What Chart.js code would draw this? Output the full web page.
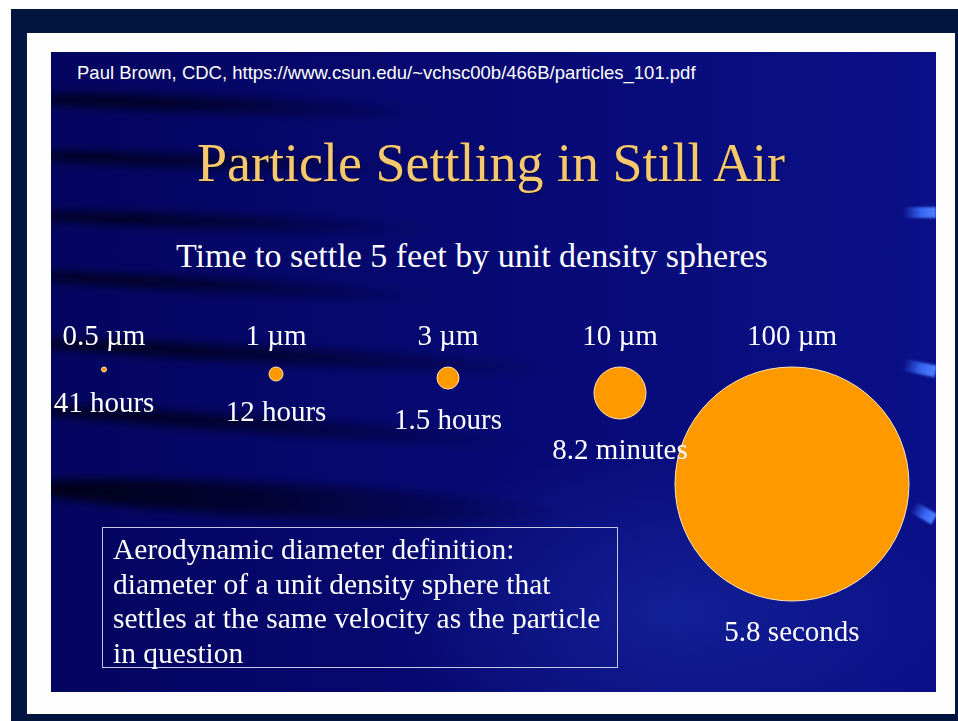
<!DOCTYPE html>
<html lang="en">
<head>
<meta charset="utf-8">
<title>Particle Settling in Still Air</title>
<script src="https://cdn.jsdelivr.net/npm/chart.js@4.4.1/dist/chart.umd.min.js"></script>
<style>
html,body{margin:0;padding:0;background:#ffffff;width:958px;height:721px;overflow:hidden;}
#outer{position:absolute;left:11px;top:9px;width:947px;height:712px;background:#021440;}
#frame{position:absolute;left:27px;top:33px;width:928px;height:681px;background:#fefefe;}
#slide{position:absolute;left:51px;top:52px;width:885px;height:640px;overflow:hidden;
  background:
    radial-gradient(ellipse 420px 240px at 620px 560px, rgba(45,75,210,0.30), rgba(45,75,210,0) 70%),
    linear-gradient(90deg,#04055f 0%,#06086f 40%,#0a1088 100%);}
.streak{position:absolute;left:-30px;background:linear-gradient(90deg,rgba(0,0,12,0.9) 0%,rgba(0,0,12,0.55) 45%,rgba(0,0,12,0) 100%);filter:blur(5px);transform-origin:0 50%;border-radius:50%;}
.dash{position:absolute;background:linear-gradient(90deg,rgba(60,110,255,0) 0%,rgba(60,110,255,0.9) 55%,rgba(80,130,255,1) 100%);filter:blur(1px);}
#source{position:absolute;left:26px;top:10px;font:18.5px "Liberation Sans",Arial,sans-serif;color:#ffffff;white-space:nowrap;}
#title{position:absolute;left:146px;top:84px;font:54px/54px "Liberation Serif","Times New Roman",serif;color:#f6c86e;white-space:nowrap;text-shadow:1px 1px 1px rgba(0,0,0,0.5);}
#subtitle{position:absolute;left:125px;top:187px;font:34px/34px "Liberation Serif","Times New Roman",serif;color:#ffffff;white-space:nowrap;}
#defbox{position:absolute;left:51px;top:475px;width:504px;height:135px;border:1px solid #c8c8e0;padding:4px 0 0 10px;font:29.5px/34.5px "Liberation Serif","Times New Roman",serif;color:#ffffff;white-space:nowrap;}
#chart{position:absolute;left:0;top:0;}
</style>
</head>
<body>
<div id="outer"></div>
<div id="frame"></div>
<div id="slide">
  <div class="streak" style="top:38px;width:420px;height:16px;transform:rotate(2deg);"></div>
  <div class="streak" style="top:96px;width:380px;height:14px;transform:rotate(2deg);"></div>
  <div class="streak" style="top:156px;width:420px;height:14px;transform:rotate(2deg);"></div>
  <div class="streak" style="top:216px;width:420px;height:14px;transform:rotate(3deg);"></div>
  <div class="streak" style="top:282px;width:560px;height:16px;transform:rotate(3deg);"></div>
  <div class="streak" style="top:348px;width:520px;height:16px;transform:rotate(4deg);"></div>
  <div class="streak" style="top:418px;width:560px;height:34px;transform:rotate(3deg);"></div>
  <div class="dash" style="left:852px;top:155px;width:33px;height:11px;"></div>
  <div class="dash" style="left:852px;top:310px;width:33px;height:12px;transform:rotate(12deg);"></div>
  <div class="dash" style="left:860px;top:455px;width:25px;height:12px;transform:rotate(30deg);"></div>
  <div id="source">Paul Brown, CDC, https://www.csun.edu/~vchsc00b/466B/particles_101.pdf</div>
  <div id="title">Particle Settling in Still Air</div>
  <div id="subtitle">Time to settle 5 feet by unit density spheres</div>
  <canvas id="chart" width="885" height="640"></canvas>
  <div id="defbox">Aerodynamic diameter definition:<br>diameter of a unit density sphere that<br>settles at the same velocity as the particle<br>in question</div>
</div>
<script>
// Data
const particleSizes = ['0.5 µm', '1 µm', '3 µm', '10 µm', '100 µm'];
const settlingTimes = ['41 hours', '12 hours', '1.5 hours', '8.2 minutes', '5.8 seconds'];
const bubbleRadius = [2.5, 7, 11, 26, 117];

const serif = '"Liberation Serif", "Times New Roman", serif';

const timeLabelPlugin = {
  id: 'timeLabels',
  afterDatasetsDraw(chart) {
    const ctx = chart.ctx;
    const meta = chart.getDatasetMeta(0);
    ctx.save();
    ctx.fillStyle = '#ffffff';
    ctx.font = '29px ' + serif;
    ctx.textAlign = 'center';
    ctx.textBaseline = 'middle';
    meta.data.forEach((el, i) => {
      const r = el.options.radius;
      ctx.fillText(settlingTimes[i], el.x, el.y + r + 32);
    });
    ctx.restore();
  }
};

new Chart(document.getElementById('chart'), {
  type: 'bubble',
  data: {
    labels: particleSizes,
    datasets: [{
      data: particleSizes.map((s, i) => ({ x: s, y: bubbleRadius[i], r: bubbleRadius[i] })),
      backgroundColor: '#ff9900',
      borderColor: '#ffe3b5',
      borderWidth: 1,
      hoverRadius: 0,
      clip: false
    }]
  },
  options: {
    responsive: false,
    animation: false,
    devicePixelRatio: 1,
    events: [],
    layout: { autoPadding: false, padding: { left: 53, right: 144, top: 256.2, bottom: 0 } },
    plugins: { legend: { display: false }, tooltip: { enabled: false }, title: { display: false } },
    scales: {
      x: {
        type: 'category',
        position: 'top',
        offset: false,
        grid: { display: false, drawTicks: false },
        border: { display: false },
        ticks: { color: '#ffffff', font: { family: serif, size: 29 }, padding: 12, maxRotation: 0, autoSkip: false },
        afterFit(scale) { scale.paddingLeft = 0; scale.paddingRight = 0; }
      },
      y: { type: 'linear', display: false, reverse: true, min: 0, max: 325 }
    }
  },
  plugins: [timeLabelPlugin]
});
</script>
</body>
</html>
